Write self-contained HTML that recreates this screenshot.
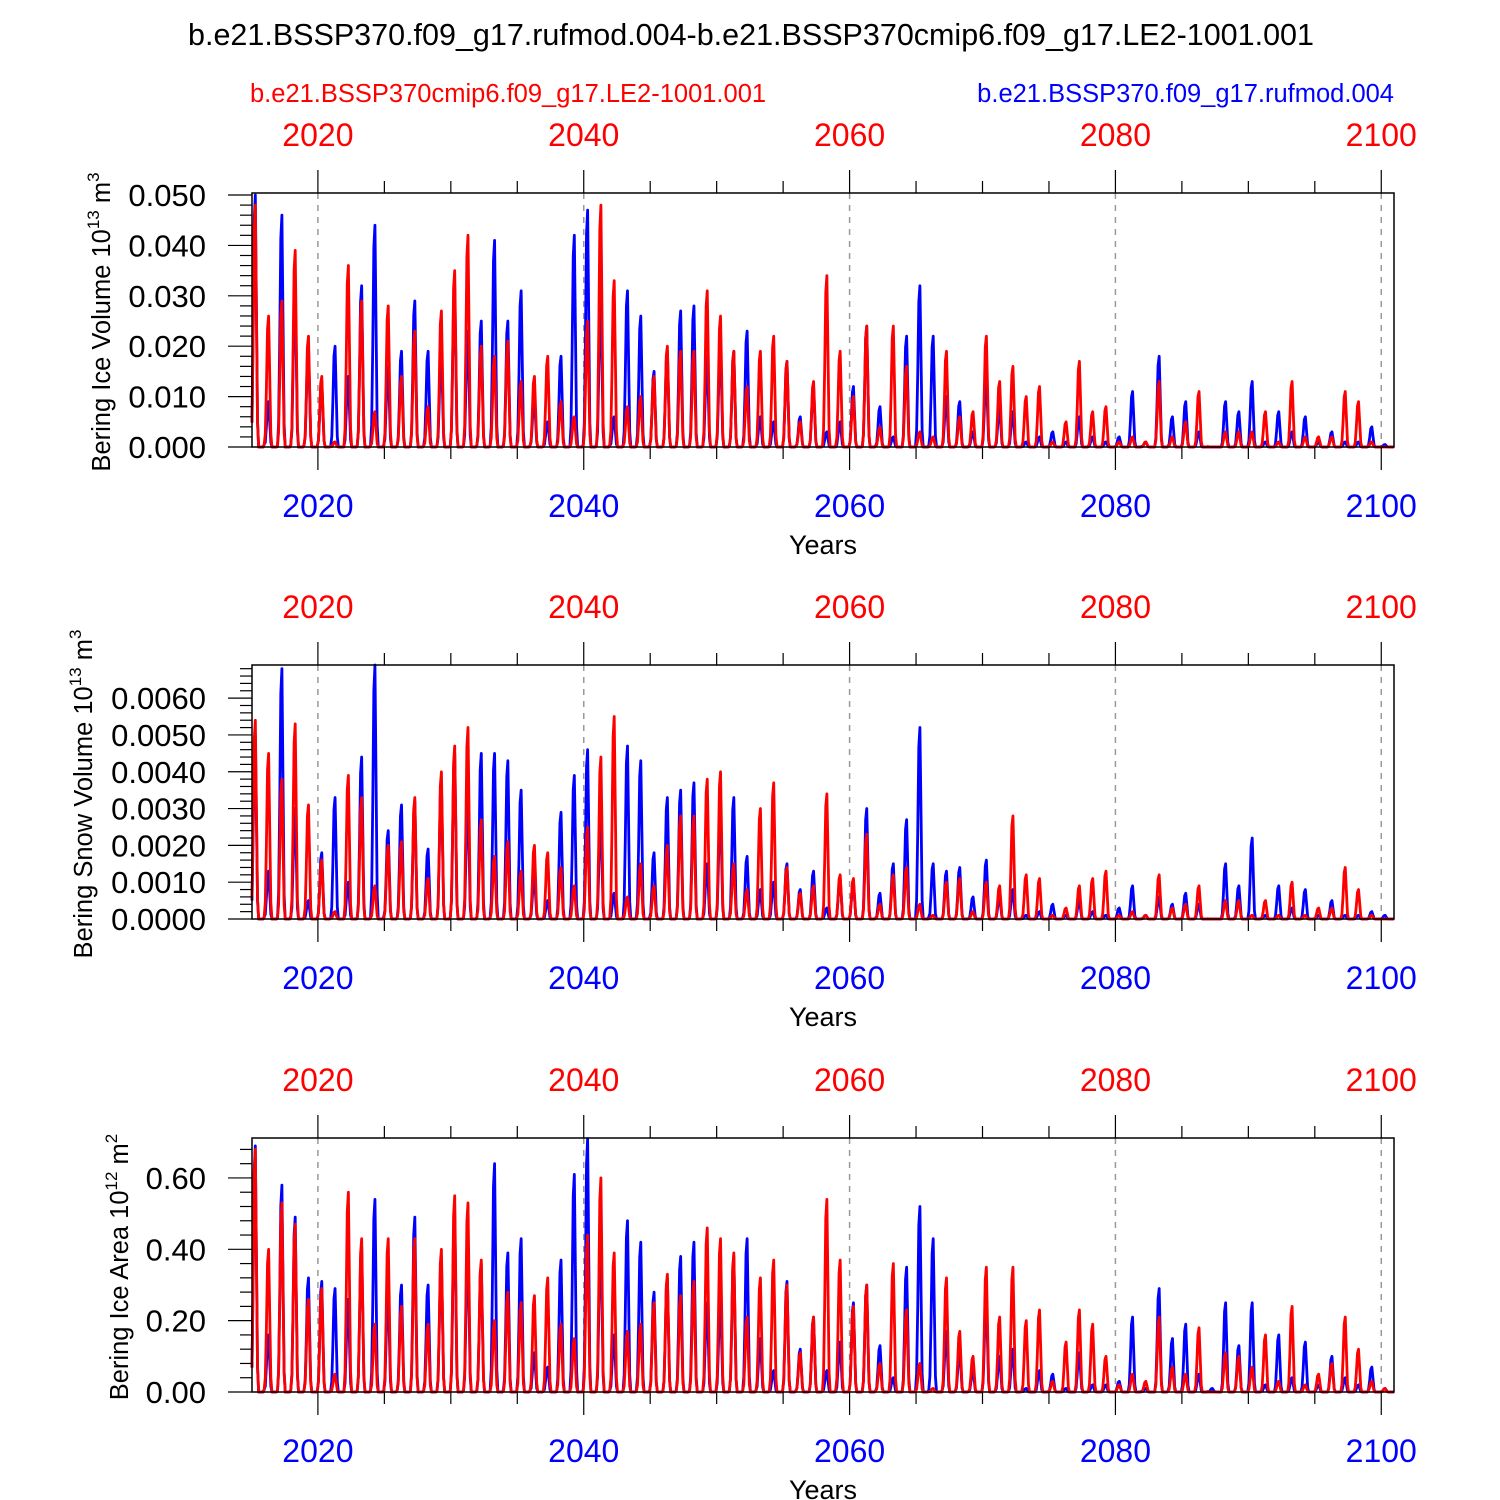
<!DOCTYPE html>
<html><head><meta charset="utf-8">
<style>
html,body{margin:0;padding:0;background:#fff;}
svg{display:block;font-family:"Liberation Sans",Arial,sans-serif;}
</style></head>
<body>
<svg id="chart" width="1500" height="1500" viewBox="0 0 1500 1500" xmlns="http://www.w3.org/2000/svg">
<text x="751" y="45" font-size="30.5" text-anchor="middle" fill="#000">b.e21.BSSP370.f09_g17.rufmod.004-b.e21.BSSP370cmip6.f09_g17.LE2-1001.001</text>
<text x="250" y="102" font-size="25.5" fill="#ff0000">b.e21.BSSP370cmip6.f09_g17.LE2-1001.001</text>
<text x="1394" y="102" font-size="25.5" fill="#0000ff" text-anchor="end">b.e21.BSSP370.f09_g17.rufmod.004</text>
</svg>
<script>
// years 2015..2100 annual peak values (monthly seasonal curve built from these)
const years = [];
for (let y = 2015; y <= 2100; y++) years.push(y);
const xTicks = [2020, 2040, 2060, 2080, 2100];
const seasonShape = [0.1, 0.45, 0.9, 1, 0.55, 0.1, 0, 0, 0, 0, 0, 0.01];

const iceVolBlue = [0.050,0.009,0.046,0.032,0.020,0.013,0.020,0.014,0.032,0.044,0.016,0.019,0.029,0.019,0.019,0.032,0.023,0.025,0.041,0.025,0.031,0.010,0.005,0.018,0.042,0.047,0.030,0.006,0.031,0.026,0.015,0.019,0.027,0.028,0.018,0.020,0.019,0.023,0.006,0.005,0.017,0.006,0.012,0.003,0.005,0.012,0.024,0.008,0.002,0.022,0.032,0.022,0.010,0.009,0.003,0.014,0.008,0.007,0.001,0.002,0.003,0.001,0.006,0.002,0.001,0.002,0.011,0.001,0.018,0.006,0.009,0.003,0.000,0.009,0.007,0.013,0.001,0.007,0.003,0.006,0.001,0.003,0.001,0.001,0.004,0.0005];
const iceVolRed = [0.048,0.026,0.029,0.039,0.022,0.014,0.001,0.036,0.029,0.007,0.028,0.014,0.023,0.008,0.027,0.035,0.042,0.020,0.018,0.021,0.013,0.014,0.018,0.009,0.006,0.025,0.048,0.033,0.008,0.010,0.014,0.020,0.019,0.019,0.031,0.026,0.019,0.012,0.019,0.022,0.017,0.005,0.013,0.034,0.019,0.010,0.024,0.004,0.024,0.016,0.003,0.002,0.019,0.006,0.007,0.022,0.013,0.016,0.010,0.012,0.001,0.005,0.017,0.007,0.008,0.001,0.002,0.001,0.013,0.002,0.005,0.011,0.000,0.003,0.003,0.003,0.007,0.001,0.013,0.002,0.002,0.002,0.011,0.009,0.001,0.000];
const snowBlue = [0.0050,0.0013,0.0068,0.0030,0.0005,0.0018,0.0033,0.0010,0.0044,0.0069,0.0024,0.0031,0.0032,0.0019,0.0037,0.0045,0.0033,0.0045,0.0045,0.0043,0.0035,0.0012,0.0005,0.0029,0.0039,0.0046,0.0028,0.0007,0.0047,0.0043,0.0018,0.0033,0.0035,0.0037,0.0015,0.0030,0.0033,0.0017,0.0008,0.0010,0.0015,0.0008,0.0013,0.0003,0.0011,0.0010,0.0030,0.0007,0.0015,0.0027,0.0052,0.0015,0.0013,0.0014,0.0006,0.0016,0.0006,0.0008,0.0001,0.0002,0.0004,0.0001,0.0005,0.0002,0.0001,0.0003,0.0009,0.0001,0.0006,0.0004,0.0007,0.0004,0.0000,0.0015,0.0009,0.0022,0.0001,0.0009,0.0003,0.0008,0.0001,0.0005,0.0001,0.0001,0.0002,0.0001];
const snowRed = [0.0054,0.0045,0.0038,0.0053,0.0031,0.0016,0.0002,0.0039,0.0033,0.0009,0.0020,0.0021,0.0033,0.0011,0.0040,0.0047,0.0052,0.0027,0.0017,0.0021,0.0013,0.0020,0.0018,0.0014,0.0009,0.0025,0.0044,0.0055,0.0006,0.0015,0.0009,0.0020,0.0028,0.0028,0.0038,0.0040,0.0015,0.0008,0.0030,0.0037,0.0014,0.0007,0.0009,0.0034,0.0012,0.0011,0.0023,0.0004,0.0012,0.0014,0.0004,0.0001,0.0010,0.0011,0.0002,0.0010,0.0009,0.0028,0.0012,0.0011,0.0001,0.0003,0.0009,0.0011,0.0013,0.0001,0.0002,0.0001,0.0012,0.0003,0.0004,0.0009,0.0000,0.0005,0.0005,0.0001,0.0005,0.0001,0.0010,0.0001,0.0003,0.0003,0.0014,0.0008,0.0001,0.0000];
const areaBlue = [0.69,0.16,0.58,0.49,0.32,0.31,0.29,0.26,0.41,0.54,0.29,0.30,0.49,0.30,0.37,0.50,0.41,0.36,0.64,0.39,0.43,0.11,0.07,0.37,0.61,0.71,0.45,0.16,0.48,0.42,0.28,0.32,0.38,0.42,0.25,0.26,0.38,0.43,0.15,0.06,0.31,0.12,0.21,0.06,0.14,0.25,0.30,0.13,0.04,0.35,0.52,0.43,0.17,0.12,0.06,0.26,0.10,0.12,0.01,0.06,0.05,0.01,0.11,0.02,0.02,0.03,0.21,0.01,0.29,0.15,0.19,0.05,0.01,0.25,0.13,0.25,0.02,0.16,0.04,0.14,0.02,0.10,0.04,0.02,0.07,0.01];
const areaRed = [0.68,0.40,0.53,0.47,0.26,0.29,0.05,0.56,0.43,0.19,0.43,0.24,0.43,0.19,0.40,0.55,0.53,0.37,0.20,0.28,0.25,0.27,0.32,0.19,0.15,0.44,0.60,0.39,0.17,0.19,0.25,0.33,0.27,0.31,0.46,0.43,0.39,0.21,0.32,0.37,0.30,0.11,0.21,0.54,0.37,0.24,0.30,0.08,0.36,0.23,0.08,0.01,0.32,0.17,0.10,0.35,0.21,0.35,0.20,0.23,0.03,0.14,0.23,0.19,0.10,0.02,0.05,0.03,0.21,0.07,0.05,0.18,0.00,0.11,0.10,0.07,0.16,0.03,0.24,0.02,0.05,0.08,0.21,0.12,0.03,0.01];

const ns = 'http://www.w3.org/2000/svg';
const svg = document.getElementById('chart');
const X0 = 252, X1 = 1394;
const tMin = 2015 + 0.5/12, tMax = 2100 + 11.5/12;
function xScale(t){ return X0 + (t - tMin) / (tMax - tMin) * (X1 - X0); }
function mk(tag, attrs, parent){
  const e = document.createElementNS(ns, tag);
  for (const k in attrs) e.setAttribute(k, attrs[k]);
  (parent || svg).appendChild(e);
  return e;
}

const panels = [
  {top:193, bottom:447, ymax:0.0504, major:0.01, minor:0.002, dec:3, blue:iceVolBlue, red:iceVolRed, label:'Bering Ice Volume 10', exp:'13', unit:' m', uexp:'3', labX:110, name:'ice-volume'},
  {top:665, bottom:919, ymax:0.00690, major:0.001, minor:0.0002, dec:4, blue:snowBlue, red:snowRed, label:'Bering Snow Volume 10', exp:'13', unit:' m', uexp:'3', labX:92, name:'snow-volume'},
  {top:1138, bottom:1392, ymax:0.712, major:0.2, minor:0.04, dec:2, blue:areaBlue, red:areaRed, label:'Bering Ice Area 10', exp:'12', unit:' m', uexp:'2', labX:128, name:'ice-area'}
];

panels.forEach(p => {
  const g = mk('g', {});
  
  
  const yScale = v => p.bottom - v / p.ymax * (p.bottom - p.top);
  xTicks.forEach(t => {
    const gl = mk('line', {x1:xScale(t), x2:xScale(t), y1:p.top, y2:p.bottom, stroke:'#999', 'stroke-width':1.5, 'stroke-dasharray':'6,6'}, g);
    
    
  });
  [['blue', p.blue, '#0000ff'], ['red', p.red, '#ff0000']].forEach(([nm, arr, col]) => {
    let d = '';
    years.forEach((yr, i) => {
      seasonShape.forEach((s, m) => {
        const t = yr + (m + 0.5) / 12;
        const v = arr[i] * s;
        d += (d ? 'L' : 'M') + xScale(t).toFixed(2) + ',' + yScale(v).toFixed(2);
      });
    });
    const path = mk('path', {d:d, fill:'none', stroke:col, 'stroke-width':2.8, 'stroke-linejoin':'round'}, g);
    
    
  });
  const fr = mk('rect', {x:X0, y:p.top, width:X1 - X0, height:p.bottom - p.top, fill:'none', stroke:'#000', 'stroke-width':1.5}, g);
  
  
  const nMinor = Math.round(p.ymax / p.minor + 0.001);
  for (let k = 0; k <= nMinor; k++) {
    const v = k * p.minor;
    if (v > p.ymax) break;
    const isMajor = Math.abs(v / p.major - Math.round(v / p.major)) < 1e-6;
    const y = yScale(v);
    mk('line', {x1:X0 - (isMajor ? 24 : 12), x2:X0, y1:y, y2:y, stroke:'#000', 'stroke-width':1.2}, g);
    if (isMajor) {
      const tl = mk('text', {x:X0 - 46, y:y + 11, 'font-size':31, 'text-anchor':'end', fill:'#000'}, g);
      tl.textContent = v.toFixed(p.dec);
      
      
    }
  }
  for (let t = 2015; t <= 2100; t += 5) {
    const isMajor = t % 20 === 0;
    const x = xScale(t);
    if (x < X0 - 0.5) continue;
    const len = isMajor ? 23 : 12;
    mk('line', {x1:x, x2:x, y1:p.top - len, y2:p.top, stroke:'#000', 'stroke-width':1.2}, g);
    mk('line', {x1:x, x2:x, y1:p.bottom, y2:p.bottom + len, stroke:'#000', 'stroke-width':1.2}, g);
  }
  xTicks.forEach(t => {
    const x = xScale(t);
    const tt = mk('text', {x:x, y:p.top - 47, 'font-size':32, 'text-anchor':'middle', fill:'#ff0000'}, g);
    tt.textContent = t;
    
    
    const tb = mk('text', {x:x, y:p.bottom + 70, 'font-size':32, 'text-anchor':'middle', fill:'#0000ff'}, g);
    tb.textContent = t;
    
    
  });
  const xt = mk('text', {x:823, y:p.bottom + 107, 'font-size':27, 'text-anchor':'middle', fill:'#000'}, g);
  xt.textContent = 'Years';
  
  
  const cy = (p.top + p.bottom) / 2 + 2;
  const yt = mk('text', {x:p.labX, y:cy, 'font-size':25.5, 'text-anchor':'middle', fill:'#000', transform:'rotate(-90 ' + p.labX + ' ' + cy + ')'}, g);
  
  
  const s1 = document.createElementNS(ns, 'tspan'); s1.textContent = p.label; yt.appendChild(s1);
  const s2 = document.createElementNS(ns, 'tspan'); s2.setAttribute('dy', '-11'); s2.setAttribute('font-size', '17'); s2.textContent = p.exp; yt.appendChild(s2);
  const s3 = document.createElementNS(ns, 'tspan'); s3.setAttribute('dy', '11'); s3.textContent = p.unit; yt.appendChild(s3);
  const s4 = document.createElementNS(ns, 'tspan'); s4.setAttribute('dy', '-11'); s4.setAttribute('font-size', '17'); s4.textContent = p.uexp; yt.appendChild(s4);
});
</script>
</body></html>
